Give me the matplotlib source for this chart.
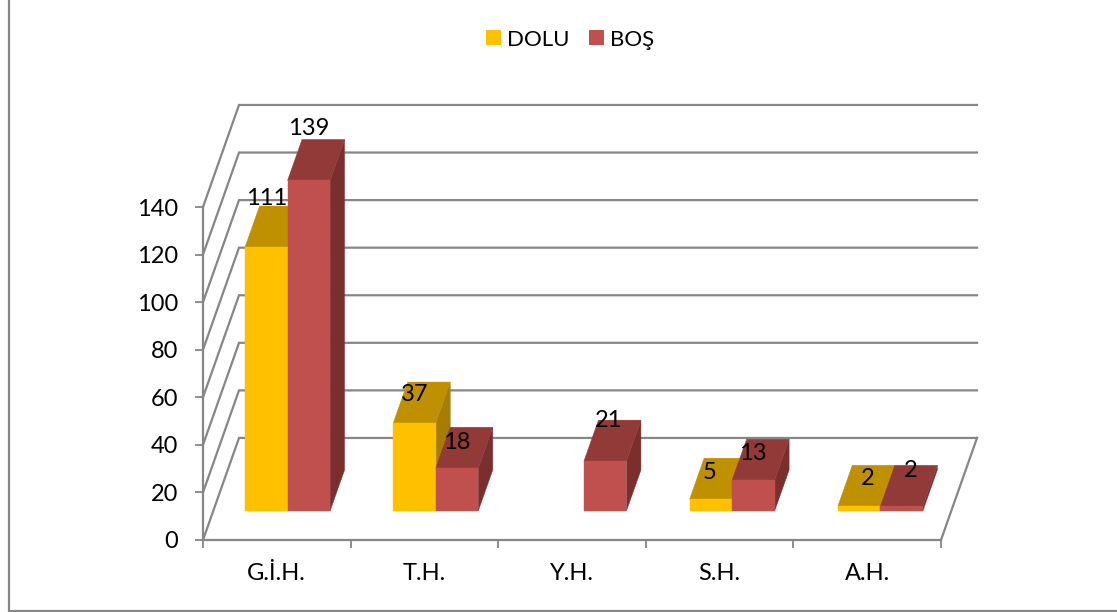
import matplotlib
matplotlib.use('Agg')
import matplotlib.pyplot as plt
from matplotlib.patches import Patch, Polygon

plt.rcParams['font.family'] = ['Lato', 'DejaVu Sans']

# Chart data
categories = ['G.İ.H.', 'T.H.', 'Y.H.', 'S.H.', 'A.H.']
dolu = [111, 37, 0, 5, 2]
bos = [139, 18, 21, 13, 2]
y_ticks = [0, 20, 40, 60, 80, 100, 120, 140]

W, H = 1117, 612
grid_color = '#868686'

# fake 3d look: how far the back wall sits from the front, in data units
wall_dx = 0.244
wall_dy = 42.9
# bars stand part way into the floor
base_dx = 0.068
base_dy = 12.2
bar_dx = 0.098
bar_dy = 17.2
bar_w = 0.288
bar_gap = 0.217
bar_pitch = 1.004

dolu_colors = ('#FFC000', '#BF9000', '#A67D00')
bos_colors = ('#C0504D', '#923A38', '#7A2F2D')

# label shift from the front top of the bar, in data units
dolu_shift = [20.2, 11.8, 0, 11, 11.8]
bos_shift = [21.8, 11, 17.2, 11.3, 15]
dolu_nudge = [0, 0, 0, -0.012, 0.06]
bos_nudge = [0, 0, 0.025, -0.006, 0.06]

fig = plt.figure(figsize=(W / 100, H / 100), dpi=100)
ax = fig.add_axes([203 / W, 1 - 540 / H, 738 / W, 333 / H])
ax.set_xlim(0, 5)
ax.set_ylim(0, 140)


def draw_bar(x, value, colors, z):
    x0 = x + base_dx
    x1 = x0 + bar_w
    y0 = base_dy
    y1 = base_dy + value
    front, top, side = colors
    ax.add_patch(Polygon([(x1, y0), (x1 + bar_dx, y0 + bar_dy), (x1 + bar_dx, y1 + bar_dy), (x1, y1)],
                         fc=side, ec=side, lw=0.3, zorder=z, clip_on=False))
    ax.add_patch(Polygon([(x0, y1), (x0 + bar_dx, y1 + bar_dy), (x1 + bar_dx, y1 + bar_dy), (x1, y1)],
                         fc=top, ec=top, lw=0.3, zorder=z, clip_on=False))
    ax.add_patch(Polygon([(x0, y0), (x1, y0), (x1, y1), (x0, y1)],
                         fc=front, ec=front, lw=0.3, zorder=z, clip_on=False))


# back wall and side wall
for t in y_ticks:
    ax.plot([0, wall_dx, 5 + wall_dx], [t, t + wall_dy, t + wall_dy], color=grid_color, lw=1.6,
            clip_on=False, zorder=1, solid_joinstyle='miter')
ax.plot([5, 5 + wall_dx], [0, wall_dy], color=grid_color, lw=1.6, clip_on=False, zorder=1)

for i in range(len(categories)):
    left = i * bar_pitch + bar_gap
    if dolu[i] > 0:
        draw_bar(left, dolu[i], dolu_colors, 2 + i)
        ax.text(left + base_dx + bar_w / 2 + dolu_nudge[i], base_dy + dolu[i] + dolu_shift[i], str(dolu[i]),
                ha='center', va='center', fontsize=17, color='black', zorder=20)
    draw_bar(left + bar_w, bos[i], bos_colors, 2.5 + i)
    ax.text(left + base_dx + bar_w * 1.5 + bos_nudge[i], base_dy + bos[i] + bos_shift[i], str(bos[i]),
            ha='center', va='center', fontsize=17, color='black', zorder=20)

ax.set_facecolor('none')
ax.spines['top'].set_visible(False)
ax.spines['right'].set_visible(False)
ax.spines['left'].set_color(grid_color)
ax.spines['bottom'].set_color(grid_color)
ax.spines['left'].set_linewidth(1.6)
ax.spines['bottom'].set_linewidth(1.6)
ax.set_yticks(y_ticks)
ax.set_xticks(range(len(categories) + 1))
ax.set_xticklabels([])
ax.tick_params(axis='both', length=5.8, width=1.3, color=grid_color, labelsize=17, labelcolor='black')
ax.tick_params(axis='y', pad=12)
for i, c in enumerate(categories):
    ax.annotate(c, (i + 0.5, 0), xytext=(0, -24), xycoords='data', textcoords='offset points',
                ha='center', va='center', fontsize=17, color='black')

# outer chart frame, the top and right sides are cut off in the picture
fig.add_artist(plt.Line2D([8.5 / W, 8.5 / W, 1], [1, 1 - 610.5 / H, 1 - 610.5 / H],
                          color=grid_color, lw=1.6, solid_joinstyle='miter'))

handles = [Patch(fc=dolu_colors[0], ec='none', label='DOLU'), Patch(fc=bos_colors[0], ec='none', label='BOŞ')]
fig.legend(handles=handles, ncol=2, loc='center', bbox_to_anchor=(570 / W, 1 - 39.5 / H), frameon=False,
           fontsize=16, handlelength=0.68, handleheight=0.68, handletextpad=0.28, columnspacing=0.85,
           borderpad=0, labelcolor='black')

fig.savefig('out.png', dpi=100)
